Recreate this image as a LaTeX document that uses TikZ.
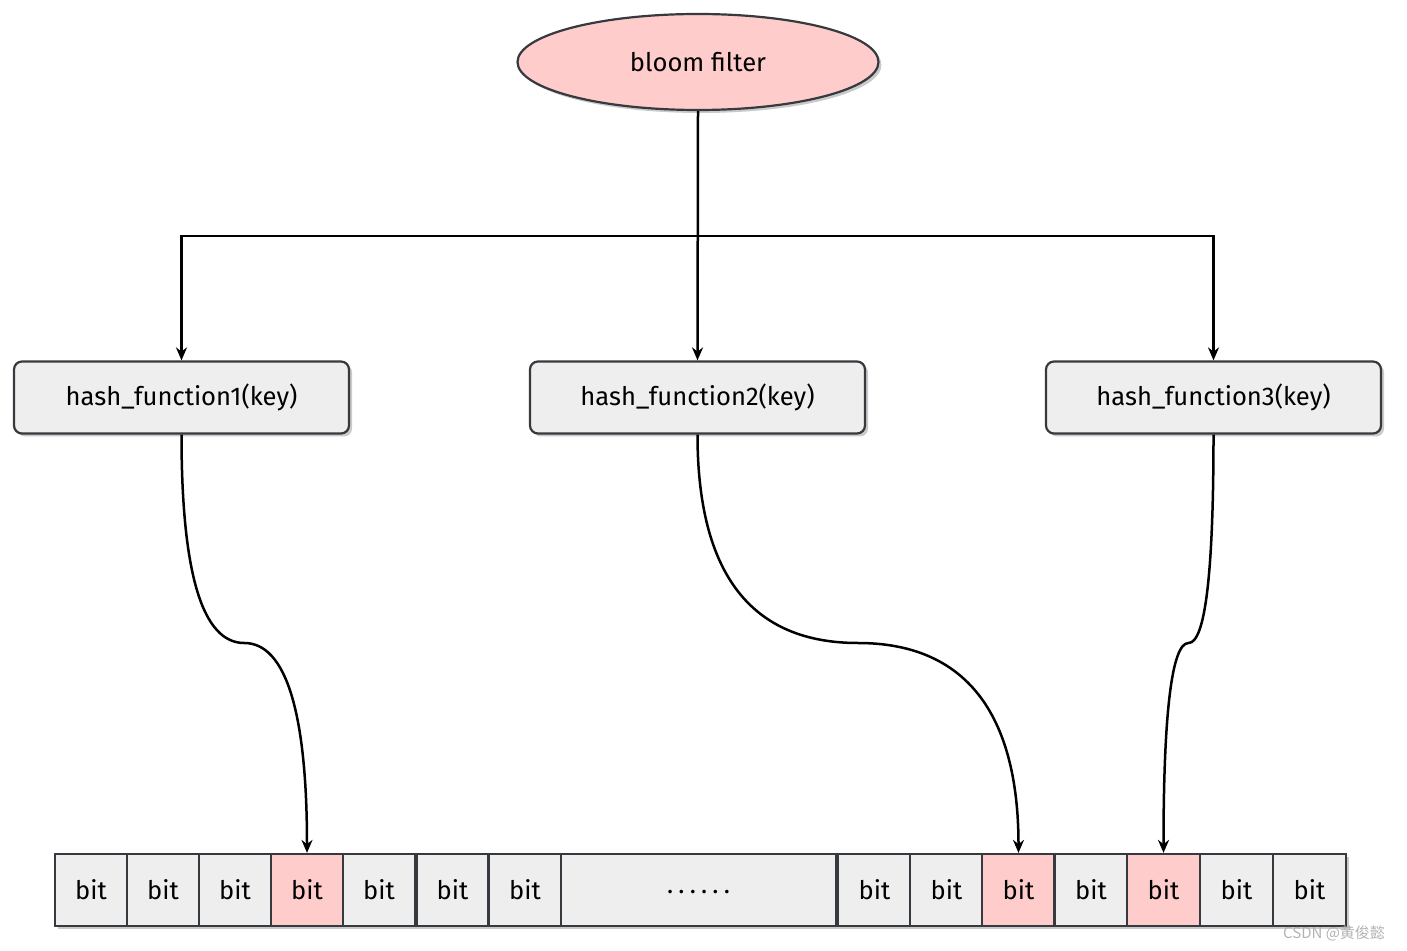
\documentclass[tikz,border=0pt]{standalone}
\usepackage{fontspec}
\setmainfont{Fira Sans}
\newfontfamily\cjk{Noto Sans CJK SC}
\usetikzlibrary{shapes.geometric,shadows,calc,arrows.meta}
\definecolor{pinkfill}{HTML}{FFCCCC}
\definecolor{greyfill}{HTML}{EEEEEE}
\definecolor{border}{HTML}{36393D}
\tikzset{
  shade/.style={drop shadow={shadow xshift=1.5pt,shadow yshift=-1.5pt,opacity=0.35,fill=black!60}},
  txt/.style={font=\fontsize{12.8}{14}\selectfont},
  ell/.style={ellipse,draw=border,line width=1.1pt,fill=pinkfill,minimum width=180.5pt,minimum height=48pt,inner sep=0pt,shade,txt},
  hashbox/.style={rectangle,rounded corners=4pt,draw=border,line width=1.1pt,fill=greyfill,minimum width=167.5pt,minimum height=36pt,inner sep=0pt,shade,txt},
  cell/.style={rectangle,draw=border,line width=1.1pt,fill=greyfill,minimum height=36pt,inner sep=0pt,txt},
  bitcell/.style={cell,minimum width=36pt},
  rbitcell/.style={cell,minimum width=36.5pt},
  hot/.style={fill=pinkfill},
  conn/.style={draw=black,line width=1.25pt},
  arr/.style={conn,-{Stealth[length=6.5pt,width=5.5pt]}},
}
\begin{document}
\begin{tikzpicture}[x=0.5pt,y=-0.5pt]
\useasboundingbox (0,0) rectangle (1407,951);
% top
\node[ell] (bf) at (698,62) {\raisebox{-1pt}{bloom filter}};
\node[hashbox] (h1) at (181.5,397.5) {\raisebox{-1.5pt}{hash\_function1(key)}};
\node[hashbox] (h2) at (697.5,397.5) {\raisebox{-1.5pt}{hash\_function2(key)}};
\node[hashbox] (h3) at (1213.5,397.5) {\raisebox{-1.5pt}{hash\_function3(key)}};
\coordinate (j) at (698,236);
\draw[arr] (bf.south) -- (h2.north);
\draw[arr] (bf.south) -- (j) -| (h1.north);
\draw[arr] (bf.south) -- (j) -| (h3.north);
% cells (shadow behind the whole strip)
\fill[black!60,opacity=0.35] (58,857) rectangle (1349,929);
\node[bitcell] (a1) at (91,890) {bit};
\node[bitcell] (a2) at (163,890) {bit};
\node[bitcell] (a3) at (235,890) {bit};
\node[bitcell,hot] (a4) at (307,890) {bit};
\node[bitcell] (a5) at (379,890) {bit};
\node[bitcell] (a6) at (452.5,890) {bit};
\node[bitcell] (a7) at (525,890) {bit};
\node[cell,minimum width=137.5pt] (dots) at (698.5,890) {\raisebox{-3.5pt}{.\hspace{2.6pt}.\hspace{2.6pt}.\hspace{2.6pt}.\hspace{2.6pt}.\hspace{2.6pt}.}};
\node[rbitcell] (b1) at (874.5,890) {bit};
\node[rbitcell] (b2) at (946.5,890) {bit};
\node[rbitcell,hot] (b3) at (1018.5,890) {bit};
\node[rbitcell] (b4) at (1091,890) {bit};
\node[rbitcell,hot] (b5) at (1163.5,890) {bit};
\node[rbitcell] (b6) at (1236.5,890) {bit};
\node[rbitcell] (b7) at (1309.5,890) {bit};
% curved connectors
\coordinate (k1) at (h1.south |- 0,643);
\coordinate (l1) at (a4.north |- 0,643);
\coordinate (m1) at ($(k1)!0.5!(l1)$);
\draw[arr] (h1.south) .. controls ($(h1.south)!0.667!(k1)$) and ($(m1)!0.667!(k1)$) .. (m1)
  .. controls ($(m1)!0.667!(l1)$) and ($(a4.north)!0.667!(l1)$) .. (a4.north);
\coordinate (k2) at (h2.south |- 0,643);
\coordinate (l2) at (b3.north |- 0,643);
\coordinate (m2) at ($(k2)!0.5!(l2)$);
\draw[arr] (h2.south) .. controls ($(h2.south)!0.667!(k2)$) and ($(m2)!0.667!(k2)$) .. (m2)
  .. controls ($(m2)!0.667!(l2)$) and ($(b3.north)!0.667!(l2)$) .. (b3.north);
\coordinate (k3) at (h3.south |- 0,643);
\coordinate (l3) at (b5.north |- 0,643);
\coordinate (m3) at ($(k3)!0.5!(l3)$);
\draw[arr] (h3.south) .. controls ($(h3.south)!0.667!(k3)$) and ($(m3)!0.667!(k3)$) .. (m3)
  .. controls ($(m3)!0.667!(l3)$) and ($(b5.north)!0.667!(l3)$) .. (b5.north);
% watermark
\node[text=black!30,font=\cjk\fontsize{7.5}{8}\selectfont,anchor=east] (wm) at (1392,933) {CSDN @黄俊懿};
\end{tikzpicture}
\end{document}
